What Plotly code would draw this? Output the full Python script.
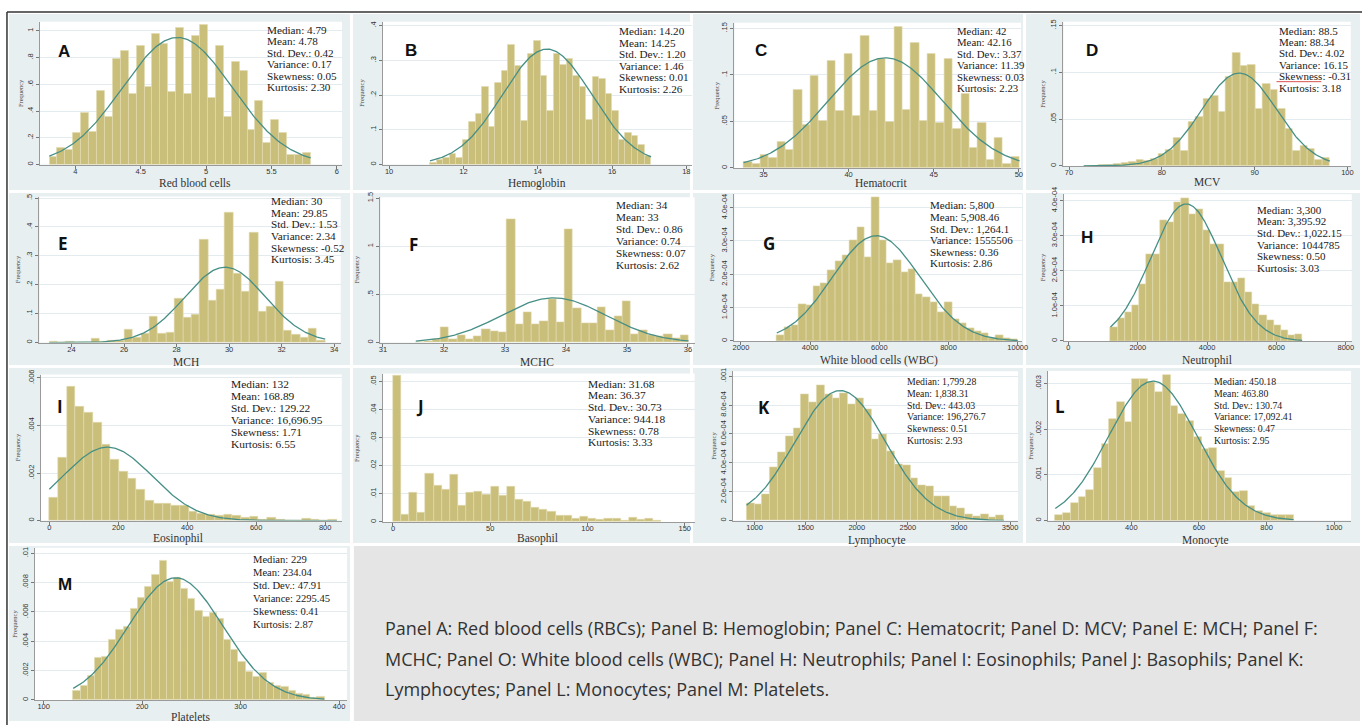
import numpy as np
import plotly.graph_objects as go

W, H = 1370, 726

# ---------------- data (density per bin) ----------------
rbc_range = [3.80, 5.80]
rbc_density = [0.057, 0.126, 0.113, 0.24, 0.39, 0.246, 0.55, 0.355, 0.79, 0.85, 0.53,
               0.89, 0.58, 0.98, 0.90, 0.54, 1.02, 0.53, 0.965, 1.044, 0.50, 0.89,
               0.357, 0.766, 0.70, 0.26, 0.48, 0.165, 0.337, 0.24, 0.074, 0.074, 0.086]
hgb_range = [11.10, 17.05]
hgb_density = [0.005, 0.014, 0.02, 0.03, 0.018, 0.07, 0.122, 0.145, 0.225, 0.11, 0.235,
               0.27, 0.345, 0.285, 0.125, 0.32, 0.355, 0.255, 0.155, 0.32, 0.288, 0.305,
               0.255, 0.225, 0.13, 0.252, 0.248, 0.205, 0.155, 0.07, 0.092, 0.083, 0.058, 0.025]
hct_range = [33.83, 50.04]
hct_density = [0.0064, 0.0043, 0.014, 0.011, 0.028, 0.0195, 0.084, 0.046, 0.0986, 0.051,
               0.1156, 0.0617, 0.1227, 0.0557, 0.142, 0.0617, 0.117, 0.05, 0.152, 0.062,
               0.135, 0.051, 0.123, 0.049, 0.117, 0.042, 0.08, 0.022, 0.049, 0.009, 0.032,
               0.004, 0.012]
mcv_range = [71.6, 98.1]
mcv_density = [0.0005, 0.0005, 0.001, 0.0015, 0.002, 0.003, 0.004, 0.006, 0.005, 0.008,
               0.013, 0.017, 0.03, 0.016, 0.047, 0.053, 0.072, 0.075, 0.058, 0.095, 0.121,
               0.107, 0.108, 0.061, 0.088, 0.081, 0.061, 0.04, 0.016, 0.021, 0.018, 0.007, 0.009]
mch_range = [23.15, 33.66]
mch_density = [0.002, 0.001, 0.003, 0.001, 0.001, 0.0125, 0.004, 0.008, 0.007, 0.046, 0.017,
               0.032, 0.089, 0.031, 0.035, 0.152, 0.088, 0.098, 0.357, 0.144, 0.184, 0.449,
               0.237, 0.177, 0.38, 0.106, 0.123, 0.211, 0.043, 0.029, 0.018, 0.048, 0.008]
mchc_range = [31.54, 36.01]
mchc_density = [0.007, 0.014, 0.038, 0.158, 0.034, 0.072, 0.034, 0.068, 0.137, 0.123, 0.103,
                1.28, 0.192, 0.315, 0.188, 0.223, 0.455, 0.216, 1.175, 0.36, 0.205, 0.202,
                0.363, 0.127, 0.274, 0.431, 0.092, 0.13, 0.079, 0.062, 0.089, 0.048, 0.072]
wbc_range = [3035, 10000]
wbc_density = [0.18e-4, 0.42e-4, 0.47e-4, 1.09e-4, 1.07e-4, 1.64e-4, 1.73e-4, 2.12e-4, 2.38e-4,
               2.58e-4, 3.02e-4, 3.42e-4, 2.52e-4, 4.30e-4, 3.01e-4, 2.32e-4, 2.42e-4, 2.07e-4,
               2.15e-4, 1.39e-4, 1.31e-4, 1.17e-4, 0.87e-4, 1.17e-4, 0.64e-4, 0.52e-4, 0.38e-4,
               0.30e-4, 0.23e-4, 0.08e-4, 0.18e-4, 0.08e-4, 0.05e-4]
neu_range = [1214, 6740]
neu_density = [0.40e-4, 0.64e-4, 0.83e-4, 1.01e-4, 1.62e-4, 2.47e-4, 2.47e-4, 3.43e-4, 3.39e-4,
               3.95e-4, 4.07e-4, 3.62e-4, 3.76e-4, 3.15e-4, 2.75e-4, 2.77e-4, 1.67e-4, 1.67e-4,
               1.78e-4, 1.39e-4, 1.06e-4, 0.73e-4, 0.59e-4, 0.45e-4, 0.31e-4, 0.17e-4, 0.19e-4]
eos_range = [0, 834]
eos_density = [0.00098, 0.00265, 0.00563, 0.00478, 0.00454, 0.00413, 0.00319, 0.00256, 0.00208,
               0.00175, 0.00129, 0.00083, 0.00073, 0.00073, 0.00062, 0.00064, 0.00039, 0.0003,
               0.00025, 0.00021, 0.00025, 0.00021, 0.00011, 0.00018, 0.00004, 0.00014, 0.00004,
               0.0, 0.0, 0.00008, 0.00004, 0.00002, 0.00004]
baso_range = [0, 138]
baso_density = [0.0522, 0.0025, 0.0105, 0.0035, 0.0173, 0.0129, 0.0114, 0.0168, 0.0059, 0.0106,
                0.0107, 0.0099, 0.0126, 0.0095, 0.0125, 0.0081, 0.0071, 0.0052, 0.0044, 0.0038,
                0.0022, 0.0022, 0.0013, 0.002, 0.0013, 0.0009, 0.0013, 0.0011, 0.0005, 0.0015,
                0.0007, 0.0012, 0.0004]
lym_range = [921, 3440]
lym_density = [0.121e-3, 0.110e-3, 0.183e-3, 0.368e-3, 0.475e-3, 0.584e-3, 0.642e-3, 0.872e-3,
               0.817e-3, 0.936e-3, 0.874e-3, 0.845e-3, 0.881e-3, 0.808e-3, 0.849e-3, 0.772e-3,
               0.566e-3, 0.596e-3, 0.479e-3, 0.393e-3, 0.384e-3, 0.292e-3, 0.247e-3, 0.235e-3,
               0.171e-3, 0.171e-3, 0.098e-3, 0.087e-3, 0.041e-3, 0.030e-3, 0.041e-3, 0.023e-3,
               0.037e-3]
mono_range = [175, 880]
mono_density = [0.115e-3, 0.166e-3, 0.389e-3, 0.519e-3, 0.671e-3, 1.154e-3, 1.68e-3, 2.22e-3,
                2.60e-3, 2.16e-3, 3.09e-3, 3.10e-3, 3.03e-3, 2.81e-3, 3.18e-3, 2.52e-3, 2.33e-3,
                2.19e-3, 1.82e-3, 1.57e-3, 1.59e-3, 1.08e-3, 0.94e-3, 0.62e-3, 0.65e-3, 0.31e-3,
                0.22e-3, 0.166e-3, 0.115e-3, 0.115e-3, 0.13e-3]
plt_range = [130, 385]
plt_density = [0.61e-3, 0.99e-3, 1.66e-3, 2.90e-3, 2.92e-3, 4.13e-3, 4.81e-3, 5.03e-3, 6.22e-3,
               6.97e-3, 7.69e-3, 8.54e-3, 9.48e-3, 8.07e-3, 8.31e-3, 7.62e-3, 6.90e-3, 6.11e-3,
               5.66e-3, 5.93e-3, 5.55e-3, 4.09e-3, 3.42e-3, 2.63e-3, 1.96e-3, 1.62e-3, 1.89e-3,
               1.21e-3, 0.99e-3, 0.90e-3, 0.61e-3, 0.45e-3, 0.38e-3, 0.16e-3, 0.20e-3]

# fitted normal curves (mean, sd) as drawn; None = no curve
rbc_fit = (4.78, 0.42)
hgb_fit = (14.25, 1.20)
hct_fit = (42.16, 3.37)
mcv_fit = (88.34, 4.02)
mch_fit = (29.85, 1.53)
mchc_fit = (33.80, 0.86)
wbc_fit = (5908.46, 1264.1)
neu_fit = (3395.92, 1022.15)
eos_fit = (168.89, 129.22)
baso_fit = None
lym_fit = (1838.31, 443.03)
mono_fit = (463.80, 130.74)
plt_fit = (234.04, 47.91)

# summary statistics text
rbc_stats = ["Median: 4.79", "Mean: 4.78", "Std. Dev.: 0.42", "Variance: 0.17", "Skewness: 0.05", "Kurtosis: 2.30"]
hgb_stats = ["Median: 14.20", "Mean: 14.25", "Std. Dev.: 1.20", "Variance: 1.46", "Skewness: 0.01", "Kurtosis: 2.26"]
hct_stats = ["Median: 42", "Mean: 42.16", "Std. Dev.: 3.37", "Variance: 11.39", "Skewness: 0.03", "Kurtosis: 2.23"]
mcv_stats = ["Median: 88.5", "Mean: 88.34", "Std. Dev.: 4.02", "Variance: 16.15", "Skewness: -0.31", "Kurtosis: 3.18"]
mch_stats = ["Median: 30", "Mean: 29.85", "Std. Dev.: 1.53", "Variance: 2.34", "Skewness: -0.52", "Kurtosis: 3.45"]
mchc_stats = ["Median: 34", "Mean: 33", "Std. Dev.: 0.86", "Variance: 0.74", "Skewness: 0.07", "Kurtosis: 2.62"]
wbc_stats = ["Median: 5,800", "Mean: 5,908.46", "Std. Dev.: 1,264.1", "Variance: 1555506", "Skewness: 0.36", "Kurtosis: 2.86"]
neu_stats = ["Median: 3,300", "Mean: 3,395.92", "Std. Dev.: 1,022.15", "Variance: 1044785", "Skewness: 0.50", "Kurtosis: 3.03"]
eos_stats = ["Median: 132", "Mean: 168.89", "Std. Dev.: 129.22", "Variance: 16,696.95", "Skewness: 1.71", "Kurtosis: 6.55"]
baso_stats = ["Median: 31.68", "Mean: 36.37", "Std. Dev.: 30.73", "Variance: 944.18", "Skewness: 0.78", "Kurtosis: 3.33"]
lym_stats = ["Median: 1,799.28", "Mean: 1,838.31", "Std. Dev.: 443.03", "Variance: 196,276.7", "Skewness: 0.51", "Kurtosis: 2.93"]
mono_stats = ["Median: 450.18", "Mean: 463.80", "Std. Dev.: 130.74", "Variance: 17,092.41", "Skewness: 0.47", "Kurtosis: 2.95"]
plt_stats = ["Median: 229", "Mean: 234.04", "Std. Dev.: 47.91", "Variance: 2295.45", "Skewness: 0.41", "Kurtosis: 2.87"]

# axis titles and panel letters
titles = ["Red blood cells", "Hemoglobin", "Hematocrit", "MCV", "MCH", "MCHC",
          "White blood cells (WBC)", "Neutrophil", "Eosinophil", "Basophil",
          "Lymphocyte", "Monocyte", "Platelets"]
letters = ["A", "B", "C", "D", "E", "F", "G", "H", "I", "J", "K", "L", "M"]

# tick values / labels
rbc_xt = [4, 4.5, 5, 5.5, 6];            rbc_xl = ["4", "4.5", "5", "5.5", "6"]
rbc_yt = [0, .2, .4, .6, .8, 1];         rbc_yl = ["0", ".2", ".4", ".6", ".8", "1"]
hgb_xt = [10, 12, 14, 16, 18];           hgb_xl = ["10", "12", "14", "16", "18"]
hgb_yt = [0, .1, .2, .3, .4];            hgb_yl = ["0", ".1", ".2", ".3", ".4"]
hct_xt = [35, 40, 45, 50];               hct_xl = ["35", "40", "45", "50"]
hct_yt = [0, .05, .1, .15];              hct_yl = ["0", ".05", ".1", ".15"]
mcv_xt = [70, 80, 90, 100];              mcv_xl = ["70", "80", "90", "100"]
mcv_yt = [0, .05, .1, .15];              mcv_yl = ["0", ".05", ".1", ".15"]
mch_xt = [24, 26, 28, 30, 32, 34];       mch_xl = ["24", "26", "28", "30", "32", "34"]
mch_yt = [0, .1, .2, .3, .4, .5];        mch_yl = ["0", ".1", ".2", ".3", ".4", ".5"]
mchc_xt = [31, 32, 33, 34, 35, 36];      mchc_xl = ["31", "32", "33", "34", "35", "36"]
mchc_yt = [0, .5, 1, 1.5];               mchc_yl = ["0", ".5", "1", "1.5"]
wbc_xt = [2000, 4000, 6000, 8000, 10000]; wbc_xl = ["2000", "4000", "6000", "8000", "10000"]
wbc_yt = [0, 1e-4, 2e-4, 3e-4, 4e-4];    wbc_yl = ["0", "1.0e-04", "2.0e-04", "3.0e-04", "4.0e-04"]
neu_xt = [0, 2000, 4000, 6000, 8000];    neu_xl = ["0", "2000", "4000", "6000", "8000"]
neu_yt = [0, 1e-4, 2e-4, 3e-4, 4e-4];    neu_yl = ["0", "1.0e-04", "2.0e-04", "3.0e-04", "4.0e-04"]
eos_xt = [0, 200, 400, 600, 800];        eos_xl = ["0", "200", "400", "600", "800"]
eos_yt = [0, .002, .004, .006];          eos_yl = ["0", ".002", ".004", ".006"]
baso_xt = [0, 50, 100, 150];             baso_xl = ["0", "50", "100", "150"]
baso_yt = [0, .01, .02, .03, .04, .05];  baso_yl = ["0", ".01", ".02", ".03", ".04", ".05"]
lym_xt = [1000, 1500, 2000, 2500, 3000, 3500]; lym_xl = ["1000", "1500", "2000", "2500", "3000", "3500"]
lym_yt = [0, 2e-4, 4e-4, 6e-4, 8e-4, 1e-3];    lym_yl = ["0", "2.0e-04", "4.0e-04", "6.0e-04", "8.0e-04", ".001"]
mono_xt = [200, 400, 600, 800, 1000];    mono_xl = ["200", "400", "600", "800", "1000"]
mono_yt = [0, .001, .002, .003];         mono_yl = ["0", ".001", ".002", ".003"]
plt_xt = [100, 200, 300, 400];           plt_xl = ["100", "200", "300", "400"]
plt_yt = [0, .002, .004, .006, .008, .01]; plt_yl = ["0", ".002", ".004", ".006", ".008", ".01"]

caption_lines = [
    "Panel A: Red blood cells (RBCs); Panel B: Hemoglobin; Panel C: Hematocrit; Panel D: MCV; Panel E: MCH; Panel F:",
    "MCHC; Panel O: White blood cells (WBC); Panel H: Neutrophils; Panel I: Eosinophils; Panel J: Basophils; Panel K:",
    "Lymphocytes; Panel L: Monocytes; Panel M: Platelets.",
]

series = [
    (rbc_range, rbc_density, rbc_fit, rbc_stats, rbc_xt, rbc_xl, rbc_yt, rbc_yl),
    (hgb_range, hgb_density, hgb_fit, hgb_stats, hgb_xt, hgb_xl, hgb_yt, hgb_yl),
    (hct_range, hct_density, hct_fit, hct_stats, hct_xt, hct_xl, hct_yt, hct_yl),
    (mcv_range, mcv_density, mcv_fit, mcv_stats, mcv_xt, mcv_xl, mcv_yt, mcv_yl),
    (mch_range, mch_density, mch_fit, mch_stats, mch_xt, mch_xl, mch_yt, mch_yl),
    (mchc_range, mchc_density, mchc_fit, mchc_stats, mchc_xt, mchc_xl, mchc_yt, mchc_yl),
    (wbc_range, wbc_density, wbc_fit, wbc_stats, wbc_xt, wbc_xl, wbc_yt, wbc_yl),
    (neu_range, neu_density, neu_fit, neu_stats, neu_xt, neu_xl, neu_yt, neu_yl),
    (eos_range, eos_density, eos_fit, eos_stats, eos_xt, eos_xl, eos_yt, eos_yl),
    (baso_range, baso_density, baso_fit, baso_stats, baso_xt, baso_xl, baso_yt, baso_yl),
    (lym_range, lym_density, lym_fit, lym_stats, lym_xt, lym_xl, lym_yt, lym_yl),
    (mono_range, mono_density, mono_fit, mono_stats, mono_xt, mono_xl, mono_yt, mono_yl),
    (plt_range, plt_density, plt_fit, plt_stats, plt_xt, plt_xl, plt_yt, plt_yl),
]

# ---------------- layout geometry (pixels) ----------------
# plot area: left, top, right, bottom ; axis ranges
geom = [
    (38.0, 15.0, 342.0, 159.3, [3.727, 6.04], [0, 1.067]),
    (383.0, 15.0, 694.0, 159.3, [9.83, 18.15], [0, 0.411]),
    (736.7, 16.0, 1025.0, 162.7, [33.29, 50.13], [0, 0.156]),
    (1067.7, 15.0, 1356.7, 160.7, [69.4, 100.36], [0, 0.154]),
    (37.7, 191.7, 340.7, 339.3, [22.78, 34.25], [0, 0.505]),
    (380.7, 192.3, 696.7, 339.3, [30.96, 36.11], [0, 1.51]),
    (736.7, 189.3, 1026.0, 337.7, [1810, 10124], [0, 4.4e-4]),
    (1068.3, 189.3, 1357.7, 337.7, [-126, 8172], [0, 4.18e-4]),
    (39.3, 371.7, 341.7, 519.3, [-24, 848], [0, 0.00614]),
    (383.3, 370.7, 696.7, 520.7, [-5.1, 155.1], [0, 0.0529]),
    (735.0, 368.3, 1022.0, 519.3, [786, 3578], [0, 0.001034]),
    (1052.0, 368.0, 1357.0, 519.3, [153, 1050], [0, 0.003275]),
    (33.0, 546.7, 347.0, 700.7, [91, 408], [0, 0.01038]),
]
# panel background boxes
bg_boxes = [
    (7, 7, 350, 185), (353, 7, 692, 185), (695, 7, 1027, 185), (1030, 7, 1366, 185),
    (7, 188, 350, 362), (353, 188, 692, 362), (695, 188, 1027, 362), (1030, 188, 1366, 362),
    (7, 365, 350, 542), (353, 365, 692, 542), (695, 365, 1027, 542), (1030, 365, 1366, 542),
    (7, 545, 350, 722),
]
# stats text: x-left, first line y, line step, font size
stat_pos = [
    (265, 23.0, 11.6, 11.2), (619, 24.3, 11.7, 11.2), (959, 24.0, 11.6, 10.8), (1282, 24.0, 11.5, 11.0),
    (269, 196.0, 11.8, 11.2), (615.7, 200.0, 12.1, 11.2), (931.7, 200.7, 11.7, 11.0), (1260.7, 205.0, 11.8, 11.0),
    (228.3, 381.7, 12.0, 11.4), (587.7, 380.7, 11.9, 11.4), (908, 379.0, 11.8, 9.8), (1217, 379.0, 11.8, 9.8),
    (250, 558.3, 13.2, 10.6),
]
letter_pos = [(62, 45), (411, 44), (763, 44), (1096, 44), (61, 239), (414, 240), (772, 239),
              (1091, 233), (58, 404), (420, 404), (766, 405), (1064, 404), (63, 584)]
letter_font = ["Liberation Sans", "Liberation Sans", "Liberation Sans", "Liberation Sans",
               "Open Sans", "Open Sans", "Open Sans", "Liberation Sans", "Open Sans",
               "Open Sans", "Open Sans", "Open Sans", "Liberation Sans"]
title_pos = [(194, 178), (538, 178), (885, 178), (1213, 177), (185, 358.5), (538, 358.5),
             (881.7, 357), (1211.7, 357), (177, 537.5), (538.3, 537.5), (880, 539), (1211, 539),
             (190, 718)]
freq_x = [18, 361.7, 718.3, 1047, 15.7, 356.7, 714, 1046.7, 15.7, 357.3, 716, 1035, 13]

BAR = "#c9be7a"
EDGE = "#e3dcb2"
CURVE = "#468f86"
PANEL_BG = "#e8eff1"
SERIF = "Liberation Serif, Times New Roman, serif"
SANS = "Liberation Sans, Arial, sans-serif"


def px(x):
    return x / W


def py(y):
    return 1 - y / H


fig = go.Figure()
layout = dict(
    width=W, height=H, autosize=False,
    margin=dict(l=0, r=0, t=0, b=0, pad=0),
    paper_bgcolor="white", plot_bgcolor="rgba(0,0,0,0)",
    showlegend=False, bargap=0,
)
shapes = []
annotations = []

for (l, t, r, b) in bg_boxes:
    shapes.append(dict(type="rect", xref="paper", yref="paper", x0=px(l), x1=px(r), y0=py(b), y1=py(t),
                       fillcolor=PANEL_BG, line=dict(width=0), layer="below"))
# caption box
shapes.append(dict(type="rect", xref="paper", yref="paper", x0=px(354), x1=px(1366), y0=py(722), y1=py(545),
                   fillcolor="#e5e5e5", line=dict(width=0), layer="below"))

for i, (s, g) in enumerate(zip(series, geom)):
    rng, dens, fit, stats, xt, xl, yt, yl = s
    l, t, r, b, xr, yr = g
    sfx = "" if i == 0 else str(i + 1)
    xa, ya = "x" + sfx, "y" + sfx
    shapes.append(dict(type="rect", xref="paper", yref="paper", x0=px(l), x1=px(r), y0=py(b), y1=py(t),
                       fillcolor="white", line=dict(width=0), layer="below"))
    n = len(dens)
    w = (rng[1] - rng[0]) / n
    centers = [rng[0] + w * (k + 0.5) for k in range(n)]
    fig.add_trace(go.Bar(x=centers, y=dens, width=[w] * n, xaxis=xa, yaxis=ya,
                         marker=dict(color=BAR, line=dict(color=EDGE, width=0.6)),
                         hoverinfo="skip", showlegend=False))
    if fit is not None:
        mu, sd = fit
        xs = np.linspace(rng[0], rng[1], 240)
        ys = np.exp(-0.5 * ((xs - mu) / sd) ** 2) / (sd * np.sqrt(2 * np.pi))
        fig.add_trace(go.Scatter(x=xs, y=ys, mode="lines", xaxis=xa, yaxis=ya,
                                 line=dict(color=CURVE, width=1.3), hoverinfo="skip", showlegend=False))
    layout["xaxis" + sfx] = dict(
        domain=[px(l), px(r)], range=xr, anchor=ya, tickvals=xt, ticktext=xl,
        ticks="outside", ticklen=3, tickwidth=1, tickcolor="#777", ticklabelstandoff=-4,
        showline=True, linecolor="#9a9a9a", linewidth=1, showgrid=False, zeroline=False,
        tickfont=dict(family=SANS, size=7.5, color="#333"), fixedrange=True)
    layout["yaxis" + sfx] = dict(
        domain=[py(b), py(t)], range=yr, anchor=xa, tickvals=yt, ticktext=yl, tickangle=-90,
        ticks="outside", ticklen=3, tickwidth=1, tickcolor="#777",
        showline=True, linecolor="#9a9a9a", linewidth=1, showgrid=True, gridcolor="#e3ebee",
        gridwidth=1, zeroline=False, tickfont=dict(family=SANS, size=7.5, color="#333"), fixedrange=True)

    sx, sy, step, fs = stat_pos[i]
    for j, line in enumerate(stats):
        annotations.append(dict(text=line, x=px(sx), y=py(sy + j * step), xref="paper", yref="paper",
                                xanchor="left", yanchor="middle", showarrow=False,
                                font=dict(family=SERIF, size=fs, color="#1a1a1a")))
    lx, ly = letter_pos[i]
    annotations.append(dict(text="<b>" + letters[i] + "</b>", x=px(lx), y=py(ly), xref="paper", yref="paper",
                            xanchor="center", yanchor="middle", showarrow=False,
                            font=dict(family=letter_font[i], size=17, color="#111")))
    tx, ty = title_pos[i]
    annotations.append(dict(text=titles[i], x=px(tx), y=py(ty), xref="paper", yref="paper",
                            xanchor="center", yanchor="middle", showarrow=False,
                            font=dict(family=SERIF, size=11.5, color="#333")))
    annotations.append(dict(text="Frequency", x=px(freq_x[i]), y=py((t + b) / 2), xref="paper", yref="paper",
                            xanchor="center", yanchor="middle", showarrow=False, textangle=-90,
                            font=dict(family=SERIF, size=6.5, color="#444")))

# spell-check underline under "Skewness" in panel D
shapes.append(dict(type="line", xref="paper", yref="paper", x0=px(1282), x1=px(1327), y0=py(75.5), y1=py(75.5),
                   line=dict(color="#d9534f", width=1)))

# outer frame (top and left)
shapes.append(dict(type="line", xref="paper", yref="paper", x0=px(5), x1=px(1368), y0=py(5), y1=py(5),
                   line=dict(color="#333", width=1.5)))
shapes.append(dict(type="line", xref="paper", yref="paper", x0=px(5), x1=px(5), y0=py(5), y1=py(726),
                   line=dict(color="#333", width=1.5)))

for k, line in enumerate(caption_lines):
    annotations.append(dict(text=line, x=px(383), y=py(628 + 31 * k), xref="paper", yref="paper",
                            xanchor="left", yanchor="middle", showarrow=False,
                            font=dict(family="Open Sans, Noto Sans, sans-serif", size=18, color="#333")))

layout["shapes"] = shapes
layout["annotations"] = annotations
fig.update_layout(**layout)
fig.write_html("out.html")
